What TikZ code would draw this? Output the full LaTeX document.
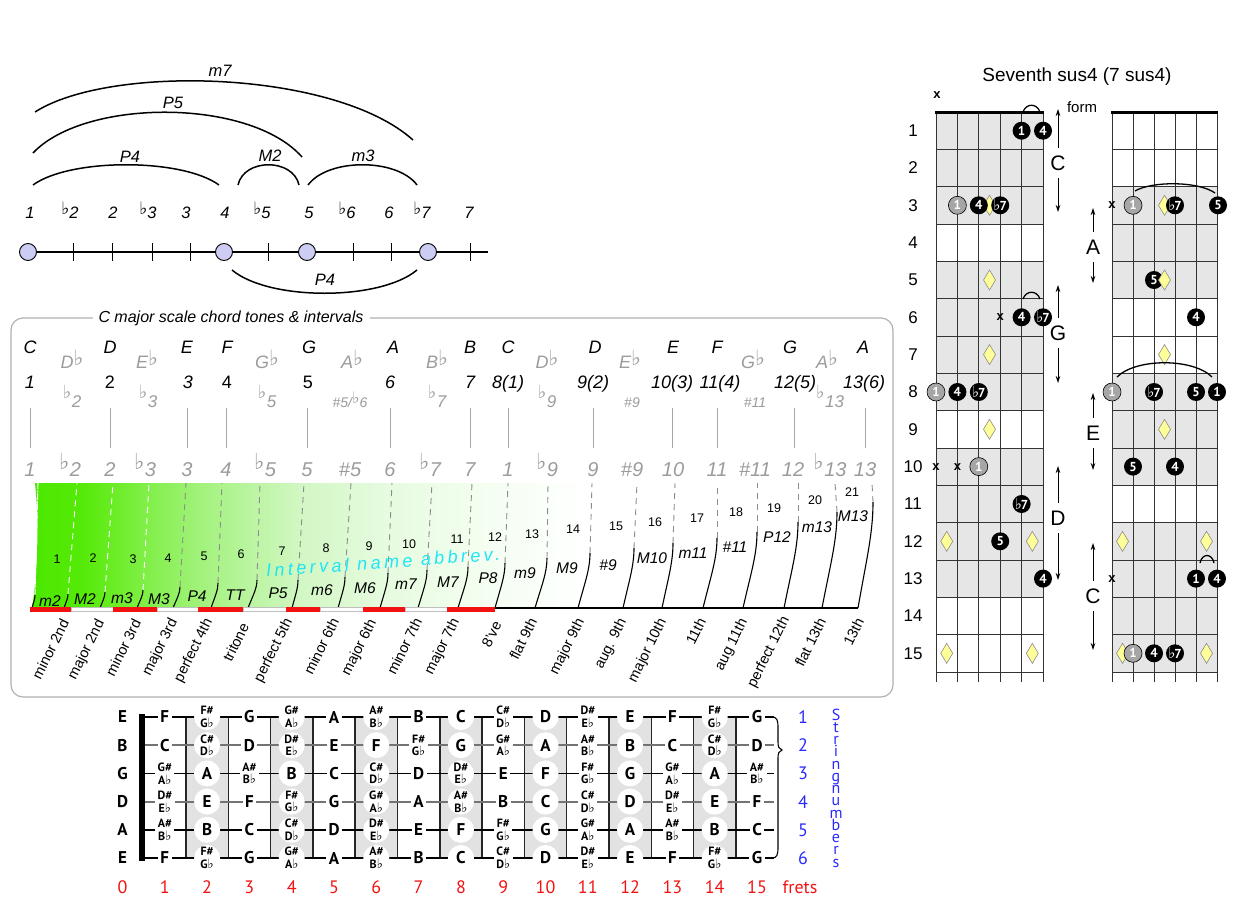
\documentclass[tikz,border=0pt]{standalone}
\usepackage{fontspec}
\setmainfont{Liberation Sans}
\newfontfamily\djv{DejaVu Sans}
\newfontfamily\pts{PT Sans}
\newfontfamily\spaced{Liberation Sans}[LetterSpace=19]
\usetikzlibrary{arrows.meta,shapes.geometric}
\definecolor{gtx}{HTML}{9C9C9C}
\definecolor{lav}{HTML}{CDCDF3}
\definecolor{shd}{HTML}{E2E2E2}
\definecolor{rowg}{HTML}{E6E6E6}
\definecolor{dia}{HTML}{FFFF99}
\definecolor{cy}{HTML}{1EE6F5}
\definecolor{rd}{HTML}{F21212}
\definecolor{bl}{HTML}{2A2AFF}
\definecolor{gA}{HTML}{4CE800}
\definecolor{gB}{HTML}{55EA08}
\definecolor{gC}{HTML}{78EE3A}
\definecolor{gD}{HTML}{A2F27C}
\definecolor{gE}{HTML}{D2F7C4}
\definecolor{gF}{HTML}{E6FBDF}
\definecolor{gG}{HTML}{F4FEF1}
\pgfdeclarehorizontalshading{gfade}{100bp}{color(0bp)=(gA); color(25bp)=(gA); color(28bp)=(gB); color(31bp)=(gC); color(35bp)=(gD); color(41bp)=(gE); color(46bp)=(gF); color(52bp)=(gG); color(58bp)=(white); color(100bp)=(white)}
\newcommand\fl{{\djv\upshape\mdseries ♭}}
\newcommand\tfl{\raisebox{0.25em}{\fontsize{16}{16}\selectfont\fl}}
\newcommand\gfl{\raisebox{0.15em}{\fontsize{21}{21}\selectfont\fl}}
\newcommand\dfl{\raisebox{0.5em}{\fontsize{18}{18}\selectfont\fl}\kern0.5pt}
\newcommand\bfl{\raisebox{0.35em}{\fontsize{22}{22}\selectfont\fl}\kern0.5pt}
\newcommand\sfl{\raisebox{0.2em}{\fontsize{17}{17}\selectfont\fl}}
\newcommand\sh[2]{{\fontsize{12}{10}\selectfont\shortstack{#1\#\\#2{\fontsize{13}{13}\selectfont\fl}}}}
\newcommand\notename[1]{\ifcase#1 C\or\sh{C}{D}\or D\or\sh{D}{E}\or E\or F\or\sh{F}{G}\or G\or\sh{G}{A}\or A\or\sh{A}{B}\or B\fi}
\newcommand\cf{{\fontsize{15}{15}\selectfont\fl}\kern-1pt7}
\begin{document}
\begin{tikzpicture}[x=1pt,y=-1pt,
  every node/.style={inner sep=0pt,outer sep=0pt},
  tl/.style={anchor=base,font=\fontsize{16.5}{16.5}\selectfont\itshape},
  dot/.style={circle,draw=black,line width=0.9,fill=lav,minimum size=17},
  arcl/.style={line width=1.5},
  nb/.style={anchor=base,font=\fontsize{18}{18}\selectfont\itshape},
  ng/.style={anchor=base,text=gtx,font=\fontsize{18}{18}\selectfont\itshape},
  gs/.style={anchor=base,text=gtx,font=\fontsize{14}{14}\selectfont\itshape},
  gb/.style={anchor=base,text=gtx,font=\fontsize{20}{20}\selectfont\itshape},
  sm/.style={font=\fontsize{12.5}{12.5}\selectfont},
  ab/.style={font=\fontsize{15.5}{15.5}\selectfont\itshape},
  rl/.style={anchor=north east,rotate=63.5,font=\fontsize{14.5}{14.5}\selectfont},
  sep/.style={line width=1.1},
  dsh/.style={line width=0.9,dash pattern=on 6pt off 5pt},
  fnt/.style={font=\pts\bfseries\fontsize{17}{17}\selectfont,align=center},
  fn0/.style={fnt,circle,fill=white,minimum size=26},
  fn1/.style={fnt,rectangle,fill=white,inner sep=2.5},
  fr/.style={text=rd,font=\pts\fontsize{18}{18}\selectfont},
  sn/.style={text=bl,font=\pts\fontsize{18}{18}\selectfont},
  vl/.style={anchor=base,text=bl,font=\pts\fontsize{16}{16}\selectfont},
  bk/.style={circle,fill=black,minimum size=18,text=white,font=\pts\bfseries\fontsize{13}{13}\selectfont},
  gy/.style={circle,fill=black!35,draw=black,line width=0.6,minimum size=18,text=white,font=\pts\bfseries\fontsize{13}{13}\selectfont},
  dm/.style={diamond,fill=dia,draw=black!45,line width=0.6,minimum width=12,minimum height=20},
  mx/.style={font=\bfseries\fontsize{13}{13}\selectfont},
  frl/.style={font=\fontsize{17}{17}\selectfont},
  fm/.style={font=\fontsize{21}{21}\selectfont},
  ar/.style={line width=0.9,-{Stealth[length=7,width=4.5]}},
  tie/.style={line width=1.3}
]
\fill[white] (0,0) rectangle (1241,907);
\useasboundingbox (0,0) rectangle (1241,907);

%================ TOP LEFT: intervals on a line
\foreach \x in {73,112,152,190,268,353,391,470} \draw[line width=0.8] (\x,243) -- (\x,261);
\coordinate (nlR) at (488,252);
\node[dot] (d1) at (28,252) {};
\node[dot] (d4) at (224,252) {};
\node[dot] (d5) at (307,252) {};
\node[dot] (d7) at (428,252) {};
\draw[line width=1.4] (d1) -- (d4) (d4) -- (d5) (d5) -- (d7) (d7) -- (nlR);
\foreach \x/\t [count=\i] in {30/1,70/{\sfl2},113/2,148/{\sfl3},186/3,225/4,262/{\sfl5},309/5,347/{\sfl6},389/6,422/{\sfl7},469/7}
  \node[tl] (t\i) at (\x,218) {\t};
\coordinate (p4a) at (33,185); \coordinate (p4b) at (219,185);
\draw[arcl] (p4a) .. controls (70,158) and (182,158) .. (p4b);
\node[tl,anchor=center] (lP4) at (130,157) {P4};
\coordinate (m2a) at (238,185); \coordinate (m2b) at (299,185);
\draw[arcl] (m2a) .. controls (244,158) and (293,158) .. (m2b);
\node[tl,anchor=center] (lM2) at (270,156) {M2};
\coordinate (m3a) at (308,185); \coordinate (m3b) at (417,185);
\draw[arcl] (m3a) .. controls (328,158) and (397,158) .. (m3b);
\node[tl,anchor=center] (lm3) at (363,156) {m3};
\coordinate (p5a) at (33,153); \coordinate (p5b) at (302,157);
\draw[arcl] (p5a) .. controls (85,98) and (250,98) .. (p5b);
\node[tl,anchor=center] (lP5) at (173,103) {P5};
\coordinate (m7a) at (35,112); \coordinate (m7b) at (413,140);
\draw[arcl] (m7a) .. controls (110,64) and (335,70) .. (m7b);
\node[tl,anchor=center] (lm7) at (220,71) {m7};
\coordinate (q4a) at (232,270); \coordinate (q4b) at (417,270);
\draw[arcl] (q4a) .. controls (269,301) and (380,301) .. (q4b);
\node[tl,anchor=center] (lQ4) at (325,280) {P4};

%================ MIDDLE PANEL
\draw[black!30,line width=1.2,rounded corners=12] (11,318) rectangle (893,697);
\node[fill=white,inner sep=6,font=\fontsize{16}{16}\selectfont\itshape] (ptitle) at (231,318) {C major scale chord tones \& intervals};

\foreach \x/\t [count=\i] in {30/C,110/D,187/E,227/F,309/G,393/A,470/B,508/C,595/D,673/E,717/F,790/G,863/A}
  \node[nb] (nn\i) at (\x,353) {\t};
\foreach \x/\t [count=\i] in {72/D,147/E,267/G,352/A,437/B,547/D,630/E,753/G,827/A}
  \node[ng] (nf\i) at (\x,368) {\t\gfl};
\foreach \x/\t [count=\i] in {30/1,110/{\upshape 2},188/3,227/{\upshape 4},308/{\upshape 5},390/6,470/7,508/{8(1)},593/{9(2)},672/{10(3)},720/{11(4)},795/{12(5)},864/{13(6)}}
  \node[nb] (dg\i) at (\x,388) {\t};
\foreach \x/\t [count=\i] in {72/{\dfl2},148/{\dfl3},267/{\dfl5},437/{\dfl7},547/{\dfl9},830/{\dfl13}}
  \node[ng,font=\fontsize{17}{17}\selectfont\itshape] (gd\i) at (\x,407) {\t};
\node[gs] (gd7) at (350,407) {\#5/\tfl6};
\node[gs] (gd8) at (632,407) {\#9};
\node[gs] (gd9) at (755,407) {\#11};
\foreach \x in {30,110,187,226,307,390,470,508,593,672,717,794,865}
  \draw[black!35,line width=0.9] (\x,408) -- (\x,448);
\foreach \x/\t [count=\i] in {30/1,70/{\bfl2},110/2,145/{\bfl3},187/3,226/4,265/{\bfl5},307/5,350/\#5,390/6,430/{\bfl7},470/7,508/1,547/{\bfl9},593/9,632/\#9,673/10,717/11,755/\#11,793/12,830/{\bfl13},865/13}
  \node[gb] (bg\i) at (\x,476) {\t};

% green wedge
\shade[shading=gfade] (35,483) -- (873,483) -- (873,502) .. controls (866,560) and (862,590) .. (858,608) -- (32,608) .. controls (38,570) and (39,520) .. (35,483);
\draw[dsh,white] (38,483) -- (35,594);
\foreach \k/\xb/\xt/\yt/\xd in {0/32/35/595/38,1/64/68/594/77,2/100/105/592/113,3/137/143/590/149,4/173/180/587/186,5/211/218/583/222,6/248/257/580/260,7/292/298/580/304,8/338/345/577/351,9/380/388/573/392,10/418/427/570/432,11/458/468/567/472,12/495/505/563/508,13/535/547/558/548,14/578/590/553/592,15/623/634/548/637,16/662/673/543/675,17/703/717/538/717,18/743/757/532/757,19/784/798/522/798,20/822/837/512/835,21/858/873/502/872} {
  \pgfmathsetmacro\ca{\xb+0.55*(\xt-\xb)}
  \pgfmathsetmacro\cb{608-0.45*(608-\yt)}
  \pgfmathsetmacro\cc{\yt+0.3*(608-\yt)}
  \coordinate (sb\k) at (\xb,608);
  \coordinate (st\k) at (\xt,\yt);
  \coordinate (sd\k) at (\xd,483);
  \draw[sep] (sb\k) .. controls (\ca,\cb) and (\xt,\cc) .. (st\k);
  \ifnum\k<4 \draw[dsh,white] (st\k) -- (sd\k); \else \draw[dsh,black!45] (st\k) -- (sd\k); \fi
}
\draw[line width=1.1] (495,608) -- (sb21);
\foreach \a/\b in {71/113,157/198,243/286,320/363,405/447}
  \draw[black!25,line width=0.6,fill=white] (\a,607.5) rectangle (\b,611.5);
\foreach \a/\b in {30/71,113/157,198/243,286/320,363/405,447/495}
  \fill[rd] (\a,607) rectangle (\b,612);
\foreach \x/\y [count=\i] in {57/559,93/558,133/559,168/558,204/556,241/554,282/551,326/548,369/546,409/544,457/539,495/537,532/534,573/529,616/526,655/522,697/518,736/512,774/508,815/500,852/492}
  \node[sm] (num\i) at (\x,\y) {\i};
\foreach \x/\y/\t [count=\i] in {50/601/m2,85/599/M2,122/598/m3,159/599/M3,197/596/P4,235/595/TT,278/593/P5,322/590/m6,365/588/M6,406/584/m7,448/582/M7,488/578/P8,525/573/m9,567/568/M9,608/565/\#9,652/558/M10,693/553/m11,735/547/\#11,777/537/P12,817/527/m13,853/516/M13}
  \node[ab] (ab\i) at (\x,\y) {\t};
\node[rotate=4,text=cy,font=\spaced\itshape\fontsize{18}{18}\selectfont] (iabbr) at (383,562) {Interval name abbrev.};
\foreach \x/\y/\t [count=\i] in {60/618/minor 2nd,95/618/major 2nd,132/618/minor 3rd,168/617/major 3rd,203/617/perfect 4th,240/622/tritone,283/617/perfect 5th,330/617/minor 6th,367/618/major 6th,413/617/minor 7th,450/617/major 7th,493/620/8've,528/617/flat 9th,575/617/major 9th,617/617/aug. 9th,657/617/major 10th,697/617/11th,738/617/aug 11th,780/615/perfect 12th,817/617/flat 13th,855/617/13th}
  \node[rl] (rl\i) at (\x,\y) {\t};

%================ BOTTOM FRETBOARD
\foreach \n in {2,4,...,14}
  \fill[shd] ({122.5+42.3*\n-21.15},717) rectangle ({122.5+42.3*\n+21.15},858);
\foreach \n in {1,...,14}
  \draw[line width=1.5,black!85] ({122.5+42.3*\n+21.15},717) -- ({122.5+42.3*\n+21.15},858);
\foreach \s/\c in {1/black,2/black!55,3/black,4/black!55,5/black,6/black}
  \draw[line width=1.8,\c] (145,{717+28.2*(\s-1)}) -- (774,{717+28.2*(\s-1)});
\draw[line width=6] (142,714) -- (142,861);
\foreach \s/\o in {1/4,2/11,3/7,4/2,5/9,6/4} {
  \foreach \f in {1,...,15} {
    \pgfmathtruncatemacro\k{mod(\o+\f,12)}
    \pgfmathtruncatemacro\od{mod(\f,2)}
    \node[fn\od] (n\s-\f) at ({122.5+42.3*\f},{717+28.2*(\s-1)}) {\notename{\k}};
  }
}
\foreach \s/\t in {1/E,2/B,3/G,4/D,5/A,6/E}
  \node[fnt] (o\s) at (122.5,{717+28.2*(\s-1)}) {\t};
\draw[line width=1.1] (772,717) .. controls (777,717) and (778,720) .. (778,728) -- (778,742) .. controls (778,747) and (779,749) .. (782,750) .. controls (779,751) and (778,753) .. (778,758) -- (778,847) .. controls (778,855) and (777,858) .. (772,858);
\foreach \n in {0,...,15}
  \node[fr] (fr\n) at ({122.5+42.3*\n},887) {\n};
\node[fr] (frets) at (800,887) {frets};
\foreach \s in {1,...,6}
  \node[sn] (sn\s) at (803,{717+28.2*(\s-1)}) {\s};
\foreach \c [count=\i] in {S,t,r,i,n,g,n,u,m,b,e,r,s}
  \node[vl] (vs\i) at (836,{720+12.25*(\i-1)}) {\c};

%================ RIGHT: CHORD DIAGRAMS
\node[font=\fontsize{19}{19}\selectfont] (ctitle) at (1077,77) {Seventh sus4 (7 sus4)};
\foreach \k in {1,2,3,5,6,7,8,10,11,12,13}
  \fill[rowg] (936,{112+37.33*(\k-1)}) rectangle (1043,{112+37.33*\k});
\foreach \k in {3,4,5,8,9,10,12,13,14,15}
  \fill[rowg] (1112,{112+37.33*(\k-1)}) rectangle (1217,{112+37.33*\k});
\foreach \k in {1,...,15} {
  \draw[line width=0.7,black!80] (936,{112+37.33*\k}) -- (1043,{112+37.33*\k});
  \draw[line width=0.7,black!80] (1112,{112+37.33*\k}) -- (1217,{112+37.33*\k});
  \node[frl] (fl\k) at (913,{112+37.33*(\k-0.5)}) {\k};
}
\foreach \j in {0,...,5} {
  \draw[line width=0.7,black!80] ({936+21.4*\j},112) -- ({936+21.4*\j},682);
  \draw[line width=0.7,black!80] ({1112+21*\j},112) -- ({1112+21*\j},682);
}
\draw[line width=3] (935,112) -- (1044,112);
\draw[line width=3] (1111,112) -- (1218,112);

% left diagram markers
\node[mx] (lx0) at (937,95) {x};
\node[bk] (a1) at (1021.6,130.7) {1};
\node[bk] (a2) at (1043,130.7) {4};
\coordinate (ta1) at (1023,112); \coordinate (ta2) at (1040,112);
\draw[tie] (ta1) .. controls (1026,103) and (1037,103) .. (ta2);
\node[dm] (a3) at (989.5,205.3) {};
\node[gy] (a4) at (957.4,205.3) {1};
\node[bk] (a5) at (978.8,205.3) {4};
\node[bk] (a6) at (1000.2,205.3) {\cf};
\node[dm] (a7) at (989.5,280) {};
\node[mx] (a8) at (1000.2,317.3) {x};
\node[bk] (a9) at (1021.6,317.3) {4};
\node[bk] (a10) at (1043,317.3) {\cf};
\coordinate (tb1) at (1023,299); \coordinate (tb2) at (1040,299);
\draw[tie] (tb1) .. controls (1026,290) and (1037,290) .. (tb2);
\node[dm] (a11) at (989.5,354.6) {};
\node[gy] (a12) at (936,392) {1};
\node[bk] (a13) at (957.4,392) {4};
\node[bk] (a14) at (978.8,392) {\cf};
\node[dm] (a15) at (989.5,429.3) {};
\node[mx] (a16) at (936,466.6) {x};
\node[mx] (a17) at (957.4,466.6) {x};
\node[gy] (a18) at (978.8,466.6) {1};
\node[bk] (a19) at (1021.6,504) {\cf};
\node[dm] (a20) at (946.7,541.3) {};
\node[bk] (a21) at (1000.2,541.3) {5};
\node[dm] (a22) at (1032.3,541.3) {};
\node[bk] (a23) at (1043,578.6) {4};
\node[dm] (a24) at (946.7,653.3) {};
\node[dm] (a25) at (1032.3,653.3) {};

% right diagram markers
\node[mx] (b1) at (1112,205.3) {x};
\node[gy] (b2) at (1133,205.3) {1};
\node[dm] (b3) at (1164.5,205.3) {};
\node[bk] (b4) at (1175,205.3) {\cf};
\node[bk] (b5) at (1218,205.3) {5};
\coordinate (tc1) at (1135,191); \coordinate (tc2) at (1215,193);
\draw[tie] (tc1) .. controls (1152,181) and (1198,181) .. (tc2);
\node[bk] (b6) at (1154,280) {5};
\node[dm] (b7) at (1164.5,280) {};
\node[bk] (b8) at (1196,317.3) {4};
\node[dm] (b9) at (1164.5,354.6) {};
\node[gy] (b10) at (1112,392) {1};
\node[bk] (b11) at (1154,392) {\cf};
\node[bk] (b12) at (1196,392) {5};
\node[bk] (b13) at (1217,392) {1};
\coordinate (td1) at (1117,377); \coordinate (td2) at (1212,377);
\draw[tie] (td1) .. controls (1136,358) and (1193,358) .. (td2);
\node[dm] (b14) at (1164.5,429.3) {};
\node[bk] (b15) at (1133,466.6) {5};
\node[bk] (b16) at (1175,466.6) {4};
\node[dm] (b17) at (1122.5,541.3) {};
\node[dm] (b18) at (1206.5,541.3) {};
\node[mx] (b19) at (1112,578.6) {x};
\node[bk] (b20) at (1196,578.6) {1};
\node[bk] (b21) at (1217,578.6) {4};
\coordinate (te1) at (1200,563); \coordinate (te2) at (1214,563);
\draw[tie] (te1) .. controls (1202,553) and (1212,553) .. (te2);
\node[dm] (b22) at (1122.5,653.3) {};
\node[gy] (b23) at (1133,653.3) {1};
\node[bk] (b24) at (1154,653.3) {4};
\node[bk] (b25) at (1175,653.3) {\cf};
\node[dm] (b26) at (1206.5,653.3) {};

% form arrows
\node[font=\fontsize{15}{15}\selectfont] (form) at (1082,107) {form};
\foreach \nm/\x/\y/\up/\dn/\t in {fa/1058/163/109/212/C,fb/1058/333/285/383/G,fc/1058/518/466/580/D,fd/1093/247/208/283/A,fe/1093/433/393/470/E,ff/1093/596/543/650/C} {
  \node[fm] (\nm) at (\x,\y) {\t};
  \coordinate (\nm u) at (\x,\up);
  \coordinate (\nm d) at (\x,\dn);
  \draw[ar,shorten <=8] (\nm) -- (\nm u);
  \draw[ar,shorten <=8] (\nm) -- (\nm d);
}
\end{tikzpicture}
\end{document}
